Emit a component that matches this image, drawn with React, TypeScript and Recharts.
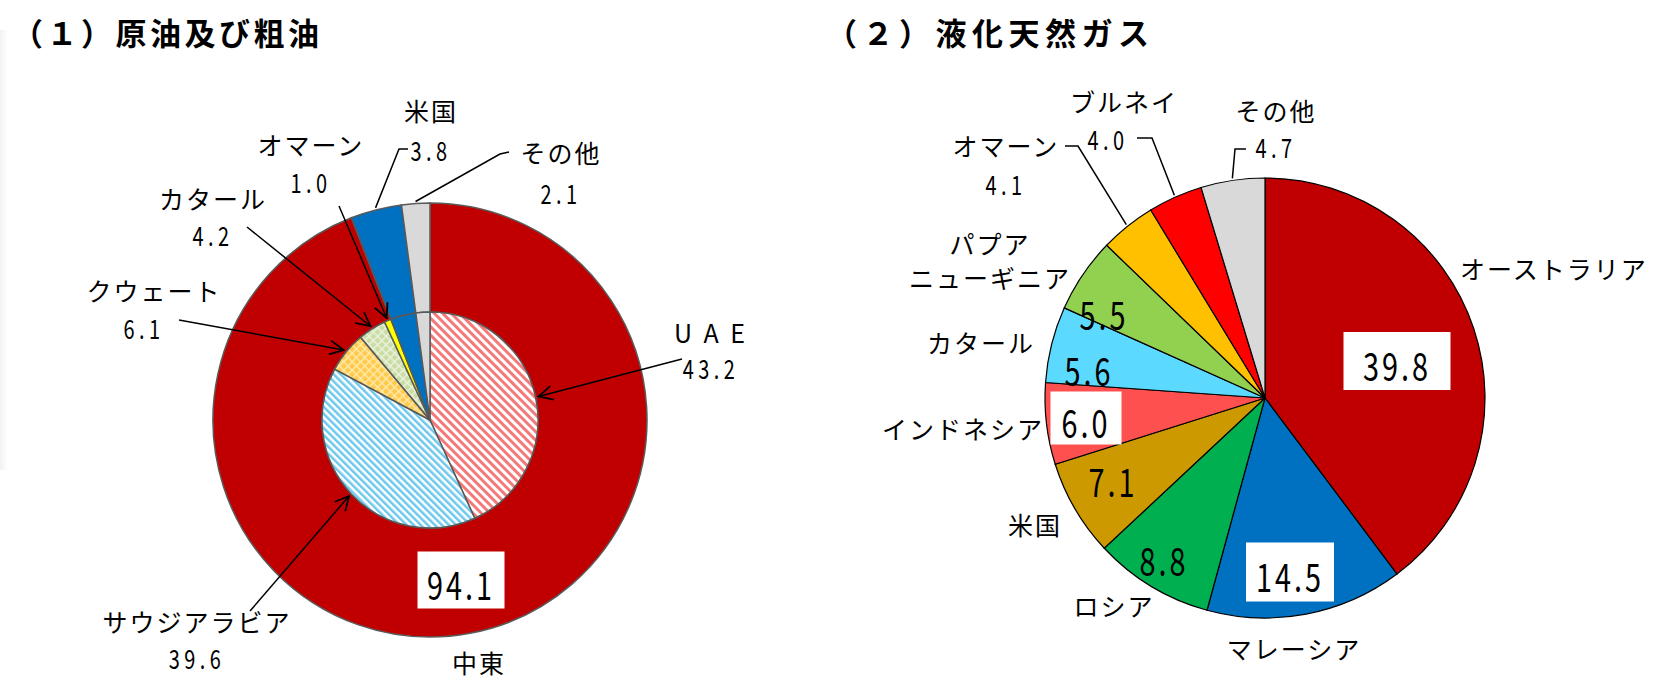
import { PieChart, Pie, Cell } from "recharts";

// (1) 原油及び粗油
const oilRegions = ["中東", "米国", "その他"];
const oilRegionValues = [94.1, 3.8, 2.1];
const oilCountries = ["U A E", "サウジアラビア", "クウェート", "カタール", "オマーン", "米国", "その他"];
const oilCountryValues = [43.2, 39.6, 6.1, 4.2, 1.0, 3.8, 2.1];

// (2) 液化天然ガス
const lngCountries = [
  "オーストラリア",
  "マレーシア",
  "ロシア",
  "米国",
  "インドネシア",
  "カタール",
  "パプア\nニューギニア",
  "オマーン",
  "ブルネイ",
  "その他",
];
const lngValues = [39.8, 14.5, 8.8, 7.1, 6.0, 5.6, 5.5, 4.1, 4.0, 4.7];

const oilRegionColors = ["#C00000", "#0070C0", "#D9D9D9"];
const oilCountryFills = [
  "url(#hatchRed)",
  "url(#hatchBlue)",
  "url(#checkOrange)",
  "url(#checkGreen)",
  "#FFFF00",
  "#0070C0",
  "#D9D9D9",
];
const lngColors = [
  "#C00000",
  "#0070C0",
  "#00B050",
  "#CC9900",
  "#FF5050",
  "#5CD9FF",
  "#92D050",
  "#FFC000",
  "#FF0000",
  "#D9D9D9",
];

const JP_FONT = "'Noto Sans CJK JP', 'Noto Sans', sans-serif";
const NUM_FONT = "'Noto Sans CJK JP', 'Noto Sans', sans-serif";
const RAD = Math.PI / 180;

type Pt = [number, number];
interface LabelLayout {
  name?: Pt;
  value?: Pt;
  box?: [number, number];
  big?: boolean;
  leader?: Pt[];
  arrow?: boolean;
}

// label placement, offsets from each pie's centre
const oilRegionLayout: LabelLayout[] = [
  { name: [49, 242], value: [31, 160], box: [87, 57], big: true },
  { name: [1, -310], value: [1, -271], leader: [[-22, -271], [-31, -271]] },
  { name: [131, -268], value: [131, -228], leader: [[79, -268], [70, -266]] },
];
const oilCountryLayout: LabelLayout[] = [
  { name: [281, -88], value: [281, -53], leader: [[252, -61]], arrow: true },
  { name: [-233, 201], value: [-233, 237], leader: [[-180, 191]], arrow: true },
  { name: [-276, -130], value: [-286, -93], leader: [[-251, -100]], arrow: true },
  { name: [-217, -222], value: [-217, -186], leader: [[-183, -193]], arrow: true },
  { name: [-119, -276], value: [-119, -239], leader: [[-91, -214]], arrow: true },
  {},
  {},
];
const lngLayout: LabelLayout[] = [
  { name: [289, -130], value: [132, -37], box: [107, 58], big: true },
  { name: [29, 250], value: [25, 174], box: [88, 59], big: true },
  { name: [-151, 207], value: [-101, 158], big: true },
  { name: [-230, 126], value: [-152, 79], big: true },
  { name: [-302, 30], value: [-179, 20], box: [71, 53], big: true },
  { name: [-284, -56], value: [-176, -32], big: true },
  { name: [-275, -138], value: [-161, -88], big: true },
  { name: [-259, -253], value: [-259, -215], leader: [[-200, -252], [-187, -252]] },
  { name: [-141, -297], value: [-157, -260], leader: [[-128, -260], [-113, -260]] },
  { name: [11, -288], value: [11, -252], leader: [[-19, -249], [-30, -249]] },
];

const makeLabel =
  (names: string[], values: number[], layout: LabelLayout[]) => (props: any) => {
    const { cx, cy, midAngle, outerRadius, index } = props;
    const lay = layout[index];
    if (!lay || !lay.name) return null;
    const lines = names[index].split("\n");
    const text = values[index].toFixed(1);
    const nx = cx + lay.name[0];
    const ny = cy + lay.name[1];
    const lineGap = 34;
    let leader = null;
    if (lay.leader) {
      const r = outerRadius + (lay.arrow ? 3 : 2);
      const ex = cx + r * Math.cos(-midAngle * RAD);
      const ey = cy + r * Math.sin(-midAngle * RAD);
      const pts = lay.leader.map(([x, y]) => `${cx + x},${cy + y}`);
      pts.push(`${ex},${ey}`);
      leader = (
        <polyline
          points={pts.join(" ")}
          fill="none"
          stroke="#000"
          strokeWidth={1.5}
          markerEnd={lay.arrow ? "url(#openArrow)" : undefined}
        />
      );
    }
    const vx = lay.value ? cx + lay.value[0] : 0;
    const vy = lay.value ? cy + lay.value[1] : 0;
    const fs = lay.big ? 39 : 27;
    return (
      <g>
        {leader}
        {lines.map((ln, i) => (
          <text
            key={i}
            x={nx}
            y={ny + (i - (lines.length - 1) / 2) * lineGap}
            textAnchor="middle"
            dominantBaseline="central"
            fontFamily={JP_FONT}
            fontSize={25}
            letterSpacing={ln === "U A E" ? 3 : 2}
            fill="#000"
          >
            {ln}
          </text>
        ))}
        {lay.box && lay.value && (
          <rect
            x={vx - lay.box[0] / 2}
            y={vy - lay.box[1] / 2}
            width={lay.box[0]}
            height={lay.box[1]}
            fill="#fff"
          />
        )}
        {lay.value && (
          <text
            transform={`translate(${vx},${vy + (lay.big ? 3 : 0)}) scale(0.74,1)`}
            x={0}
            y={0}
            textAnchor="middle"
            dominantBaseline="central"
            fontFamily={NUM_FONT}
            fontSize={fs}
            letterSpacing={lay.big ? 4 : 6}
            fill="#000"
          >
            {text}
          </text>
        )}
      </g>
    );
  };

const toRows = (names: string[], values: number[]) =>
  names.map((name, i) => ({ name, value: values[i] }));

const titleStyle: React.CSSProperties = {
  position: "absolute",
  top: 14,
  fontFamily: JP_FONT,
  fontWeight: 700,
  fontSize: 31,
  lineHeight: "35px",
  color: "#000",
  whiteSpace: "nowrap",
};

export default function App() {
  return (
    <div
      style={{
        position: "absolute",
        left: 0,
        top: 0,
        width: 1670,
        height: 690,
        background: "#fff",
        overflow: "hidden",
      }}
    >
      <div
        style={{
          position: "absolute",
          left: 0,
          top: 30,
          width: 8,
          height: 440,
          background: "linear-gradient(to right, #f2f2f2, #ffffff)",
        }}
      />
      <div style={{ ...titleStyle, left: 12, letterSpacing: 3.5 }}>（１）原油及び粗油</div>
      <div style={{ ...titleStyle, left: 826, letterSpacing: 5.5 }}>（２）液化天然ガス</div>

      <div style={{ position: "absolute", left: 0, top: 0 }}>
        <PieChart width={835} height={690} margin={{ top: 0, right: 0, bottom: 0, left: 0 }}>
          <defs>
            <pattern id="hatchRed" width="6" height="6" patternUnits="userSpaceOnUse" patternTransform="rotate(-45)">
              <rect width="6" height="6" fill="#fff" />
              <rect width="3" height="6" fill="#F47A7A" />
            </pattern>
            <pattern id="hatchBlue" width="5" height="5" patternUnits="userSpaceOnUse" patternTransform="rotate(-45)">
              <rect width="5" height="5" fill="#fff" />
              <rect width="2.5" height="5" fill="#6CC8EC" />
            </pattern>
            <pattern id="checkOrange" width="6" height="6" patternUnits="userSpaceOnUse" patternTransform="rotate(45)">
              <rect width="6" height="6" fill="#FFC94A" />
              <rect width="1.5" height="6" fill="#FFE9A8" />
              <rect width="6" height="1.5" fill="#FFE9A8" />
            </pattern>
            <pattern id="checkGreen" width="6" height="6" patternUnits="userSpaceOnUse" patternTransform="rotate(45)">
              <rect width="6" height="6" fill="#C9DCA4" />
              <rect width="1.5" height="6" fill="#EAF2DC" />
              <rect width="6" height="1.5" fill="#EAF2DC" />
            </pattern>
            <marker
              id="openArrow"
              viewBox="0 0 16 16"
              refX="15"
              refY="8"
              markerWidth="16"
              markerHeight="16"
              markerUnits="userSpaceOnUse"
              orient="auto"
            >
              <path d="M1,1 L15,8 L1,15" fill="none" stroke="#000" strokeWidth="1.8" />
            </marker>
          </defs>
          <Pie
            data={toRows(oilRegions, oilRegionValues)}
            dataKey="value"
            nameKey="name"
            cx={430}
            cy={420}
            innerRadius={108}
            outerRadius={217}
            startAngle={90}
            endAngle={-270}
            stroke="#595959"
            strokeWidth={1.5}
            isAnimationActive={false}
            labelLine={false}
            label={makeLabel(oilRegions, oilRegionValues, oilRegionLayout)}
          >
            {oilRegions.map((r, i) => (
              <Cell key={r} fill={oilRegionColors[i]} />
            ))}
          </Pie>
          <Pie
            data={toRows(oilCountries, oilCountryValues)}
            dataKey="value"
            nameKey="name"
            cx={430}
            cy={420}
            outerRadius={108}
            startAngle={90}
            endAngle={-270}
            stroke="#595959"
            strokeWidth={1.5}
            isAnimationActive={false}
            labelLine={false}
            label={makeLabel(oilCountries, oilCountryValues, oilCountryLayout)}
          >
            {oilCountries.map((c, i) => (
              <Cell key={c} fill={oilCountryFills[i]} />
            ))}
          </Pie>
        </PieChart>
      </div>

      <div style={{ position: "absolute", left: 835, top: 0 }}>
        <PieChart width={835} height={690} margin={{ top: 0, right: 0, bottom: 0, left: 0 }}>
          <Pie
            data={toRows(lngCountries, lngValues)}
            dataKey="value"
            nameKey="name"
            cx={430}
            cy={398}
            outerRadius={220}
            startAngle={90}
            endAngle={-270}
            stroke="#000"
            strokeWidth={1.2}
            isAnimationActive={false}
            labelLine={false}
            label={makeLabel(lngCountries, lngValues, lngLayout)}
          >
            {lngCountries.map((c, i) => (
              <Cell key={c} fill={lngColors[i]} />
            ))}
          </Pie>
        </PieChart>
      </div>
    </div>
  );
}
